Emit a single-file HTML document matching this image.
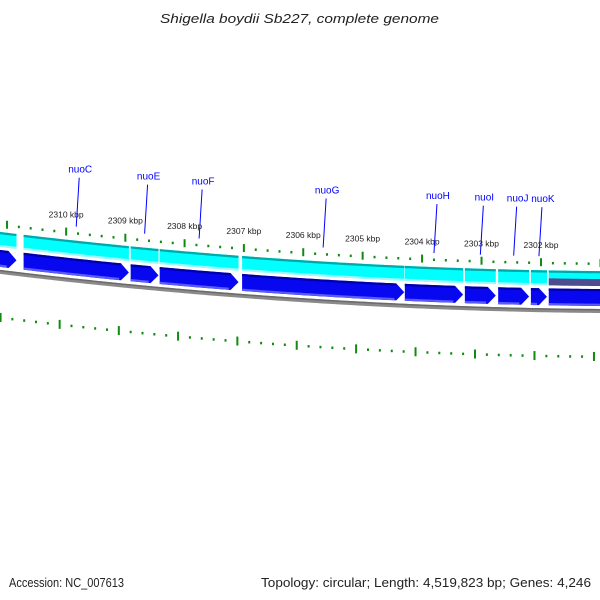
<!DOCTYPE html>
<html><head><meta charset="utf-8"><style>
html,body{margin:0;padding:0;background:#fff;}
svg{display:block;font-family:"Liberation Sans",sans-serif;}
</style></head><body>
<svg id="map" width="600" height="600" viewBox="0 0 600 600">
<text x="160" y="23" textLength="279" lengthAdjust="spacingAndGlyphs" font-size="13" font-style="italic" fill="#222">Shigella boydii Sb227, complete genome</text>
<text x="9" y="587" textLength="115" lengthAdjust="spacingAndGlyphs" font-size="12.5" fill="#222">Accession: NC_007613</text>
<text x="261" y="587" textLength="330" lengthAdjust="spacingAndGlyphs" font-size="12.5" fill="#222">Topology: circular; Length: 4,519,823 bp; Genes: 4,246</text>
</svg>
<script>
// data (kbp)
const geneNames = ["", "nuoC", "nuoE", "nuoF", "nuoG", "nuoH", "nuoI", "nuoJ", "nuoK", ""];
const geneStarts = [2311.60, 2310.72, 2308.91, 2308.42, 2307.03, 2304.29, 2303.28, 2302.72, 2302.17, 2301.87];
const geneEnds   = [2310.84, 2308.94, 2308.44, 2307.09, 2304.30, 2303.31, 2302.76, 2302.20, 2301.90, 2300.20];
const majorTicks = [2311, 2310, 2309, 2308, 2307, 2306, 2305, 2304, 2303, 2302, 2301];
const tickLabels = ["", "2310 kbp","2309 kbp","2308 kbp","2307 kbp","2306 kbp","2305 kbp","2304 kbp","2303 kbp","2302 kbp",""];

const NS = "http://www.w3.org/2000/svg";
const svg = document.getElementById("map");
const R = 5296, CX = 644, CY = 311.2 - R, KTOP = 2300.269, PXK = 59.5;
function pt(k, d) {
  const th = (KTOP - k) * PXK / R;
  const x = CX + R * Math.sin(th);
  const y = CY + Math.sqrt(R * R - (x - CX) * (x - CX)) - d;
  return [x, y];
}
function arcPts(k1, k2, d) {
  const out = [], n = Math.max(2, Math.ceil(Math.abs(k1 - k2) * 12));
  for (let i = 0; i <= n; i++) out.push(pt(k1 + (k2 - k1) * i / n, d));
  return out;
}
const fmt = a => a.map(p => p[0].toFixed(2) + "," + p[1].toFixed(2)).join(" ");
function mk(tag, attrs) { const e = document.createElementNS(NS, tag); for (const k in attrs) e.setAttribute(k, attrs[k]); svg.appendChild(e); return e; }

// backbone
let bb = mk("polyline", {points: fmt(arcPts(2312.5, 2300, 0)), fill: "none", stroke: "#8a8a8a", "stroke-width": 4});


let bb2 = mk("polyline", {points: fmt(arcPts(2312.5, 2300, 1.3)), fill: "none", stroke: "#6a6a6a", "stroke-width": 1.5});



// genes
const headK = 8 / PXK;
for (let i = 0; i < geneStarts.length; i++) {
  const s = geneStarts[i], e = geneEnds[i];
  const band = arcPts(s, e, 40).concat(arcPts(e, s, 25));
  let c = mk("polygon", {points: fmt(band), fill: "#00ffff"});
  
  
  let ct = mk("polyline", {points: fmt(arcPts(s, e, 38.8)), fill: "none", stroke: "#00a8a8", "stroke-width": 2.2});
  
  
  let cb = mk("polyline", {points: fmt(arcPts(s, e, 26)), fill: "none", stroke: "#9ffcfc", "stroke-width": 2});
  
  
  if (i === geneStarts.length - 1) {
    let pu = mk("polygon", {points: fmt(arcPts(s, e, 32).concat(arcPts(e, s, 25))), fill: "#4d4d8f"});
    
    
  }
  const sh = e + headK;
  const poly = arcPts(s, sh, 22).concat([pt(e, 13.5)]).concat(arcPts(sh, s, 5));
  let a = mk("polygon", {points: fmt(poly), fill: "#0808f0"});
  
  
  let at = mk("polyline", {points: fmt(arcPts(s, sh, 20.8)), fill: "none", stroke: "#0000a8", "stroke-width": 2.2});
  
  
  let ab = mk("polyline", {points: fmt(arcPts(s, sh + 0.03, 6.2)), fill: "none", stroke: "#5a5aff", "stroke-width": 2.2});
  
  
  if (geneNames[i]) {
    const m = (s + e) / 2;
    const b = pt(m, 54), t = pt(m, 103), tl = pt(m, 108);
    let ln = mk("line", {x1: b[0], y1: b[1], x2: t[0] + 3, y2: t[1], stroke: "#0000ff", "stroke-width": 1});
    
    
    let tx = mk("text", {x: tl[0] + 4, y: tl[1], "text-anchor": "middle", "font-size": 10, fill: "#0000ff"});
    tx.textContent = geneNames[i];
    
    
  }
}

// rulers
function tick(k, d1, d2, w, name) {
  const a = pt(k, d1), b = pt(k, d2);
  let l = mk("line", {x1: a[0], y1: a[1], x2: b[0], y2: b[1], stroke: "#108a10", "stroke-width": w});
  
  
}
for (let i = 0; i < majorTicks.length; i++) {
  const k = majorTicks[i];
  tick(k, 44, 52, 2, 'major-tick');
  tick(k + 0.11, -41, -50, 2, 'inner-major-tick');
  for (let j = 1; j < 5; j++) {
    tick(k - j * 0.2, 46, 48.5, 2, 'minor-tick');
    tick(k + 0.11 - j * 0.2, -44.5, -47, 2, 'inner-minor-tick');
  }
  if (tickLabels[i]) {
    const p = pt(k, 62);
    let t = mk("text", {x: p[0], y: p[1], "text-anchor": "middle", "font-size": 8.5, fill: "#222"});
    t.textContent = tickLabels[i];
    
    
  }
}
</script>
</body></html>
